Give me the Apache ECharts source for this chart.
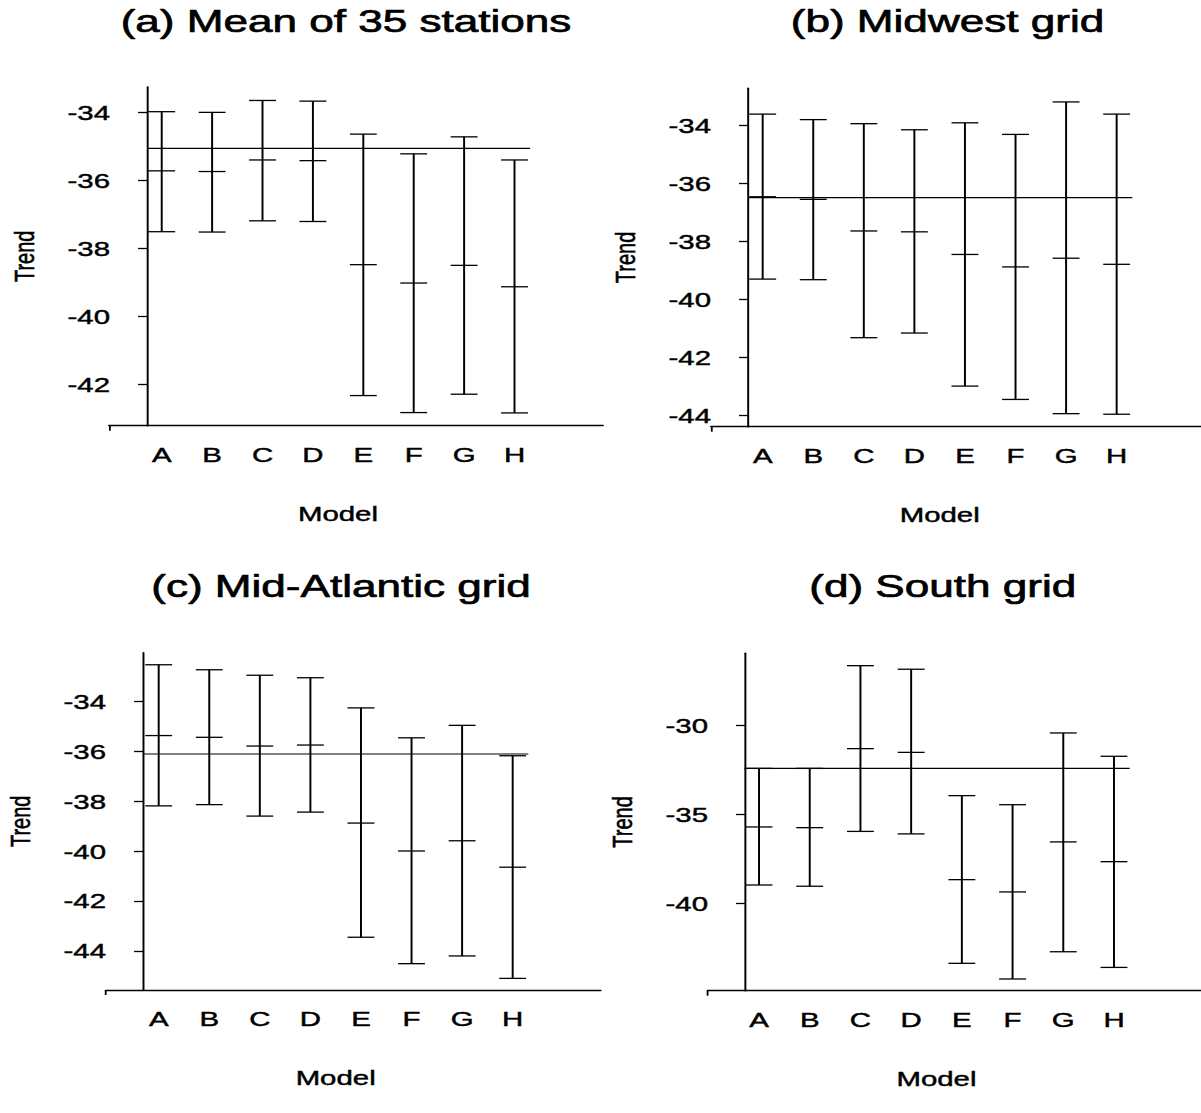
<!DOCTYPE html>
<html>
<head>
<meta charset="utf-8">
<script src="https://cdn.jsdelivr.net/npm/echarts@6/dist/echarts.min.js"></script>
<style>
html,body{margin:0;padding:0;background:#fff;overflow:hidden;}
#chart{width:858px;height:1113px;transform:scaleX(1.399767);transform-origin:0 0;}
</style>
</head>
<body>
<div id="chart"></div>
<script>
// ---------- data ----------
const categories = ['A','B','C','D','E','F','G','H'];
const panelTitles = ['(a) Mean of 35 stations','(b) Midwest grid','(c) Mid-Atlantic grid','(d) South grid'];
const xName = 'Model';
const yName = 'Trend';

const stationsLow  = [-37.50, -37.51, -37.18, -37.20, -42.32, -42.82, -42.28, -42.83];
const stationsMid  = [-35.71, -35.73, -35.39, -35.41, -38.47, -39.01, -38.49, -39.12];
const stationsHigh = [-33.97, -33.99, -33.64, -33.66, -34.63, -35.21, -34.71, -35.39];
const stationsRef  = -35.05;
const stationsTicks = [-42, -40, -38, -36, -34];

const midwestLow  = [-39.29, -39.31, -41.31, -41.15, -42.98, -43.44, -43.93, -43.95];
const midwestMid  = [-36.45, -36.54, -37.63, -37.66, -38.44, -38.87, -38.57, -38.78];
const midwestHigh = [-33.60, -33.79, -33.93, -34.14, -33.90, -34.30, -33.18, -33.60];
const midwestRef  = -36.48;
const midwestTicks = [-44, -42, -40, -38, -36, -34];

const atlanticLow  = [-38.18, -38.13, -38.59, -38.43, -43.45, -44.51, -44.20, -45.10];
const atlanticMid  = [-35.36, -35.43, -35.78, -35.74, -38.87, -39.99, -39.58, -40.64];
const atlanticHigh = [-32.52, -32.72, -32.94, -33.04, -34.25, -35.45, -34.95, -36.17];
const atlanticRef  = -36.10;
const atlanticTicks = [-44, -42, -40, -38, -36, -34];

const southLow  = [-38.97, -39.04, -35.96, -36.10, -43.37, -44.25, -42.72, -43.60];
const southMid  = [-35.71, -35.75, -31.31, -31.52, -38.67, -39.36, -36.55, -37.66];
const southHigh = [-32.42, -32.42, -26.65, -26.85, -33.95, -34.46, -30.43, -31.74];
const southRef  = -32.42;
const southTicks = [-40, -35, -30];

// reference line extent along the model axis (data units)
const REF_X0 = 0.71, REF_X1 = 8.31;

// ---------- layout (internal px, page is stretched horizontally) ----------
const FONT = '"Liberation Sans", Arial, Helvetica, sans-serif';
const panels = [
  {low: stationsLow, mid: stationsMid, high: stationsHigh, ref: stationsRef, ticks: stationsTicks,
   grid: {left: 77.87, top: 87, width: 352.92, height: 338.7}, yOffset: -27.15,
   xMin: -0.046, xMax: 9.756, yMin: -43.206, yMax: -33.244, namePad: 25.8,
   titleX: 247.2, titleY: 21},
  {low: midwestLow, mid: midwestMid, high: midwestHigh, ref: midwestRef, ticks: midwestTicks,
   grid: {left: 507.94, top: 88.3, width: 350.06, height: 338.4}, yOffset: -26.43,
   xMin: -0.022, xMax: 9.668, yMin: -44.38, yMax: -32.71, namePad: 23.3,
   titleX: 676.9, titleY: 21},
  {low: atlanticLow, mid: atlanticMid, high: atlanticHigh, ref: atlanticRef, ticks: atlanticTicks,
   grid: {left: 75.73, top: 652.7, width: 353.42, height: 337.3}, yOffset: -26.43,
   xMin: -0.042, xMax: 9.741, yMin: -45.566, yMax: -32.036, namePad: 25.3,
   titleX: 243.6, titleY: 586},
  {low: southLow, mid: southMid, high: southHigh, ref: southRef, ticks: southTicks,
   grid: {left: 505.59, top: 653.3, width: 352.42, height: 337.4}, yOffset: -26.65,
   xMin: -0.012, xMax: 9.716, yMin: -44.908, yMax: -25.955, namePad: 25.6,
   titleX: 673.5, titleY: 586}
];

const CAP_HALF = 9.6;
const INK = '#000';

function renderBar(params, api) {
  const x = api.value(0);
  const lo = api.coord([x, api.value(1)]);
  const md = api.coord([x, api.value(2)]);
  const hi = api.coord([x, api.value(3)]);
  const cap = (p) => ({type: 'line', shape: {x1: p[0] - CAP_HALF, y1: p[1], x2: p[0] + CAP_HALF, y2: p[1]},
                       style: {stroke: INK, lineWidth: 1.3}});
  return {type: 'group', children: [
    {type: 'line', shape: {x1: lo[0], y1: lo[1], x2: hi[0], y2: hi[1]}, style: {stroke: INK, lineWidth: 1.4}},
    cap(lo), cap(md), cap(hi)
  ]};
}

const labelInk = {color: INK, fontFamily: FONT, textBorderColor: INK, textBorderWidth: 0.45};

const grids = [], xAxes = [], yAxes = [], series = [], graphics = [];
panels.forEach((p, i) => {
  grids.push(Object.assign({containLabel: false}, p.grid));
  xAxes.push({
    type: 'value', gridIndex: i, min: p.xMin, max: p.xMax,
    name: xName, nameLocation: 'middle', nameGap: 77,
    nameTextStyle: Object.assign({fontSize: 21, padding: [0, p.namePad, 0, 0]}, labelInk),
    axisLine: {show: true, onZero: false, lineStyle: {color: INK, width: 1.4}},
    axisTick: {show: true, customValues: [p.xMin], length: 5, lineStyle: {color: INK, width: 1.3}},
    axisLabel: Object.assign({show: true, customValues: categories.map((c, k) => k + 1), margin: 18,
                formatter: (v) => categories[Math.round(v) - 1] || '', fontSize: 21}, labelInk),
    splitLine: {show: false}
  });
  yAxes.push({
    type: 'value', gridIndex: i, min: p.yMin, max: p.yMax, offset: p.yOffset,
    name: yName, nameLocation: 'middle', nameGap: 78,
    nameTextStyle: Object.assign({fontSize: 20}, labelInk),
    axisLine: {show: true, onZero: false, lineStyle: {color: INK, width: 1.4}},
    axisTick: {show: true, customValues: p.ticks, length: 6.4, lineStyle: {color: INK, width: 1.3}},
    axisLabel: Object.assign({show: true, customValues: p.ticks, margin: 26.4, fontSize: 21}, labelInk),
    splitLine: {show: false}
  });
  series.push({
    type: 'custom', xAxisIndex: i, yAxisIndex: i, renderItem: renderBar,
    data: categories.map((c, k) => [k + 1, p.low[k], p.mid[k], p.high[k]]),
    encode: {x: 0, y: [1, 2, 3]}, clip: false
  });
  series.push({
    type: 'line', xAxisIndex: i, yAxisIndex: i, symbol: 'none',
    data: [[REF_X0, p.ref], [REF_X1, p.ref]],
    lineStyle: {color: INK, width: 1.2}, silent: true
  });
  graphics.push({
    type: 'text', x: p.titleX, y: p.titleY,
    style: {text: panelTitles[i], fontSize: 31.5, fontFamily: FONT, fill: INK, stroke: INK, lineWidth: 0.7,
            align: 'center', verticalAlign: 'middle'}
  });
});

const chart = echarts.init(document.getElementById('chart'), null, {renderer: 'svg'});
chart.setOption({
  animation: false,
  backgroundColor: '#fff',
  grid: grids, xAxis: xAxes, yAxis: yAxes, series: series,
  graphic: graphics
});
</script>
</body>
</html>
